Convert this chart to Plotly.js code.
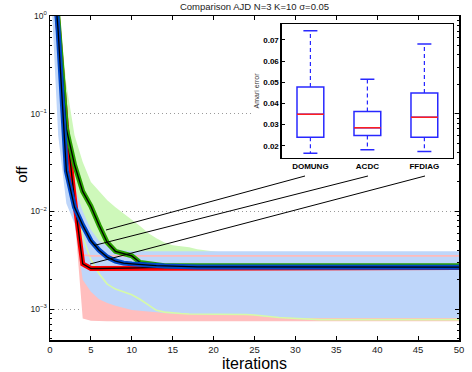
<!DOCTYPE html>
<html>
<head>
<meta charset="utf-8">
<script src="https://cdn.plot.ly/plotly-3.0.1.min.js"></script>
<style>html,body{margin:0;padding:0;background:#fff;}#chart{width:472px;height:372px;}</style>
</head>
<body>
<div id="chart"></div>
<script>
// ---- data ----
const iterations = [0,1,2,3,4,5,6,7,8,9,10,11,12,13,14,15,16,17,18,19,20,21,22,23,24,25,26,27,28,29,30,31,32,33,34,35,36,37,38,39,40,41,42,43,44,45,46,47,48,49,50];

// mean curves
const domung = [8,0.9,0.07,0.03,0.016,0.0113,0.0072,0.0048,0.0039,0.0037,0.0035,0.0030,0.0029,0.00282,
  0.00278,0.00278,0.00278,0.00278,0.00278,0.00278,0.00278,0.00278,0.00278,0.00278,
  0.00278,0.00278,0.00278,0.00278,0.00278,0.00278,0.00278,0.00278,0.00278,0.00278,
  0.00278,0.00278,0.00278,0.00278,0.00278,0.00278,0.00278,0.00278,0.00278,0.00278,
  0.00278,0.00278,0.00278,0.00278,0.00278,0.00278,0.00278];
const acdc = [8,0.7,0.026,0.011,0.0072,0.005,0.004,0.0034,0.0031,0.00295,0.0029,0.00285,0.0028,0.00278,0.00276,0.00274,
  0.0027,0.0027,0.0027,0.0027,0.0027,0.0027,0.0027,0.0027,0.0027,0.0027,
  0.00268,0.00268,0.00268,0.00268,0.00268,0.00268,0.00268,0.00268,0.00268,0.00268,
  0.00268,0.00268,0.00268,0.00268,0.00268,0.00268,0.00268,0.00268,0.00268,0.00268,
  0.00268,0.00268,0.00268,0.00268,0.00268];
const ffdiag = [8,0.9,0.075,0.013,0.0029,0.0026,
  0.0026,0.0026,0.00261,0.00262,0.00263,0.00264,0.00265,0.00266,0.00266,0.00266,
  0.00266,0.00266,0.00266,0.00266,0.00266,0.00266,0.00266,0.00266,0.00266,0.00266,
  0.00266,0.00266,0.00266,0.00266,0.00266,0.00266,0.00266,0.00266,0.00266,0.00266,
  0.00266,0.00266,0.00266,0.00266,0.00266,0.00266,0.00266,0.00266,0.00266,0.00266,
  0.00266,0.00266,0.00266,0.00266,0.00266];

// spread bands
const domungHi = [10,1.5,0.2,0.06,0.032,0.02,0.016,0.013,0.011,0.0095,0.0083,0.0071,0.006,0.0053,0.0048,0.0045,0.0044,0.0043,0.0041,0.004,0.0039,0.0038,
  0.0037,0.0037,0.0037,0.0037,0.0037,0.0037,0.0037,0.0037,0.0037,0.0037,
  0.0037,0.0037,0.0037,0.0037,0.0037,0.0037,0.0037,0.0037,0.0037,0.0037,
  0.0037,0.0037,0.0037,0.0037,0.0037,0.0037,0.0037,0.0037,0.0037];
const domungLo = [5,0.6,0.04,0.012,0.0055,0.0032,0.0023,0.0018,0.0016,0.0015,0.0014,0.00126,0.0011,0.00097,0.00093,0.00091,0.0009,
  0.00089,0.00089,0.00089,0.00089,0.00089,0.00089,0.00089,
  0.00088,0.00087,0.00085,0.00083,0.00082,0.00081,0.0008,0.00079,
  0.00078,0.00078,0.00078,0.00078,0.00078,0.00078,0.00078,0.00078,0.00078,0.00078,
  0.00078,0.00078,0.00078,0.00078,0.00078,0.00078,0.00078,0.00078,0.00078];
const acdcHi = [10,1.2,0.045,0.018,0.01,0.0065,0.005,0.0044,0.0041,0.004,
  0.0039,0.0039,0.0039,0.0039,0.0039,0.0039,0.0039,0.0039,0.0039,0.0039,
  0.0039,0.0039,0.0039,0.0039,0.0039,0.0039,0.0039,0.0039,0.0039,0.0039,
  0.0039,0.0039,0.0039,0.0039,0.0039,0.0039,0.0039,0.0039,0.0039,0.0039,
  0.0039,0.0039,0.0039,0.0039,0.0039,0.0039,0.0039,0.0039,0.0039,0.0039,0.0039];
const acdcLo = [3,0.06,0.012,0.0075,0.002,0.0015,0.00126,0.00115,0.00108,0.00102,0.00098,0.00096,0.00094,0.00092,0.00091,0.0009,
  0.00089,0.00089,0.00089,0.00089,0.00089,
  0.00087,0.00087,0.00087,0.00087,0.00087,
  0.00084,0.00083,0.00082,0.00082,0.00081,
  0.00081,0.00081,0.00081,0.00081,0.00081,0.00081,0.00081,0.00081,0.00081,0.00081,
  0.00081,0.00081,0.00081,0.00081,0.00081,0.00081,0.00081,0.00081,0.00081,0.00081];
const ffdiagHi = [10,1.5,0.1,0.02,0.0036,
  0.0035,0.0035,0.0035,0.0035,0.0035,0.0035,0.0035,0.0035,0.0035,0.0035,
  0.0035,0.0035,0.0035,0.0035,0.0035,0.0035,0.0035,0.0035,0.0035,0.0035,
  0.0035,0.0035,0.0035,0.0035,0.0035,0.0035,0.0035,0.0035,0.0035,0.0035,
  0.0035,0.0035,0.0035,0.0035,0.0035,0.0035,0.0035,0.0035,0.0035,0.0035,
  0.0035,0.0035,0.0035,0.0035,0.0035,0.0035];
const ffdiagLo = [5,0.5,0.05,0.009,0.0008,0.00076,
  0.00075,0.00075,0.00075,0.00075,0.00075,0.00075,0.00075,0.00075,0.00075,0.00075,
  0.00075,0.00075,0.00075,0.00075,0.00075,0.00075,0.00075,0.00075,0.00075,0.00075,
  0.00075,0.00075,0.00075,0.00075,0.00075,0.00075,0.00075,0.00075,0.00075,0.00075,
  0.00075,0.00075,0.00075,0.00075,0.00075,0.00075,0.00075,0.00075,0.00075,0.00075,
  0.00075,0.00075,0.00075,0.00075,0.00075];

// inset box plot (Amari error)
const boxCats = ['DOMUNG','ACDC','FFDIAG'];
const boxLower = [0.0165,0.0181,0.0173];
const boxQ1 = [0.0241,0.0249,0.0241];
const boxMedian = [0.0349,0.0285,0.0335];
const boxQ3 = [0.0478,0.0362,0.0450];
const boxUpper = [0.0744,0.0514,0.0681];

// tick labels
const yTickVals = [1,0.1,0.01,0.001];
const yTickText = ['10<sup>0</sup>','10<sup>\u22121</sup>','10<sup>\u22122</sup>','10<sup>\u22123</sup>'];
const yMinorVals = [0.0005,0.0006,0.0007,0.0008,0.0009,0.002,0.003,0.004,0.005,0.006,0.007,0.008,0.009,
  0.02,0.03,0.04,0.05,0.06,0.07,0.08,0.09,0.2,0.3,0.4,0.5,0.6,0.7,0.8,0.9];

// ---- styles ----
const C = {
  greenFill:'rgb(206,248,186)', pinkFill:'rgb(255,190,190)', blueFill:'rgb(190,214,250)',
  greenEdge:'rgb(214,250,168)', pinkEdge:'rgb(255,186,186)',
  red:'rgb(255,0,0)', green:'rgb(40,160,0)', blue:'rgb(0,72,200)', box:'rgb(40,40,255)'
};

const traces = [];
function band(lo, hi, color) {
  traces.push({x:iterations, y:lo, mode:'lines', line:{width:0, color:color}, hoverinfo:'skip'});
  traces.push({x:iterations, y:hi, mode:'lines', line:{width:0, color:color}, fill:'tonexty', fillcolor:color, hoverinfo:'skip'});
}
band(domungLo, domungHi, C.greenFill);
band(ffdiagLo, ffdiagHi, C.pinkFill);
band(acdcLo, acdcHi, C.blueFill);
traces.push({x:iterations, y:domungLo, mode:'lines', line:{width:1.6, color:C.greenEdge}});
traces.push({x:iterations, y:ffdiagHi, mode:'lines', line:{width:1.6, color:C.pinkEdge}});
function curve(y, color, name) {
  traces.push({x:iterations, y:y, mode:'lines', name:name, line:{width:5, color:color}});
  traces.push({x:iterations, y:y, mode:'lines', name:name, line:{width:1.3, color:'black'}});
}
curve(ffdiag, C.red, 'FFDIAG');
curve(domung, C.green, 'DOMUNG');
curve(acdc, C.blue, 'ACDC');

// inset
traces.push({type:'box', xaxis:'x2', yaxis:'y2', x:boxCats, q1:boxQ1, median:boxMedian, q3:boxQ3,
  lowerfence:boxQ1, upperfence:boxQ3, width:0.47, boxpoints:false,
  line:{color:C.box, width:1.5}, fillcolor:'rgba(0,0,0,0)', hoverinfo:'skip'});
traces.push({type:'box', xaxis:'x2', yaxis:'y2', x:boxCats, q1:boxMedian, median:boxMedian, q3:boxMedian,
  lowerfence:boxMedian, upperfence:boxMedian, width:0.47, boxpoints:false,
  line:{color:'rgb(255,30,30)', width:1.5}, fillcolor:'rgba(0,0,0,0)', hoverinfo:'skip'});
const wx = [], wy = [];
boxCats.forEach((c,i) => { wx.push(c,c,null,c,c,null); wy.push(boxQ3[i],boxUpper[i],null,boxQ1[i],boxLower[i],null); });
traces.push({xaxis:'x2', yaxis:'y2', x:wx, y:wy, mode:'lines', line:{color:C.box, width:1.2, dash:'4px,3px'}, hoverinfo:'skip'});
traces.push({xaxis:'x2', yaxis:'y2', x:boxCats.concat(boxCats), y:boxUpper.concat(boxLower), mode:'markers',
  marker:{symbol:'line-ew', size:10, color:C.box, line:{color:C.box, width:1.5}}, hoverinfo:'skip'});

const FONT = 'Liberation Sans, Arial, Helvetica, sans-serif';
function leader(x0,y0,x1,y1){ return {type:'line', xref:'paper', yref:'paper', x0:x0, y0:y0, x1:x1, y1:y1, line:{color:'black', width:1}, layer:'above'}; }

const layout = {
  width:472, height:372,
  margin:{l:50, r:13, t:16, b:32},
  paper_bgcolor:'white', plot_bgcolor:'white',
  showlegend:false,
  font:{family:FONT, color:'black'},
  title:{text:'Comparison AJD N=3 K=10 \u03c3=0.05', font:{size:9.5, color:'#222'}, x:0.5, xref:'paper', xanchor:'center', y:1-7/372, yref:'container', yanchor:'middle'},
  xaxis:{range:[0,50], tick0:0, dtick:5, ticks:'inside', ticklen:4, tickwidth:1, tickcolor:'black',
    showline:true, linecolor:'black', linewidth:1.5, mirror:'allticks', showgrid:false, zeroline:false,
    tickfont:{size:9.5, color:'#222'}, title:{text:'iterations', font:{size:16}, standoff:2}},
  yaxis:{type:'log', range:[-3.317,0], tickmode:'array', tickvals:yTickVals, ticktext:yTickText,
    ticks:'inside', ticklen:4, tickwidth:1, tickcolor:'black',
    showline:true, linecolor:'black', linewidth:1.5, mirror:'allticks',
    showgrid:true, gridcolor:'#9a9a9a', griddash:'1px,3px', gridwidth:1, zeroline:false,
    minor:{tickmode:'array', tickvals:yMinorVals, ticks:'inside', ticklen:2, tickwidth:1, tickcolor:'black', showgrid:false},
    tickfont:{size:8.5, color:'#222'}},
  xaxis2:{domain:[0.567,0.985], anchor:'y2', type:'category', range:[-0.5,2.5],
    showline:true, linecolor:'black', linewidth:1.5, mirror:true, ticks:'', showgrid:false, zeroline:false,
    tickfont:{size:8, weight:'bold'}},
  yaxis2:{domain:[0.562,0.975], anchor:'x2', range:[0.0143,0.0775], tick0:0, dtick:0.01, tickformat:'.2f',
    ticks:'inside', ticklen:3, tickcolor:'black', showline:true, linecolor:'black', linewidth:1.5, mirror:true,
    showgrid:false, zeroline:false, tickfont:{size:8, weight:'bold'},
    title:{text:'Amari error', font:{size:7, color:'#333'}, standoff:3}},
  annotations:[
    {text:'off', xref:'paper', yref:'paper', x:0, y:0.51, xshift:-28, xanchor:'center', yanchor:'middle',
     textangle:-90, showarrow:false, font:{size:15, color:'black'}}
  ],
  shapes:[
    // white margin behind the inset's labels (hides main grid there)
    {type:'rect', xref:'x', yref:'y', x0:24.8, x1:28.4, y0:0.07, y1:0.14, fillcolor:'white', line:{width:0}, layer:'between'},
    leader(0.1369,0.3395,0.6235,0.5062),
    leader(0.1076,0.2917,0.7775,0.5062),
    leader(0.0978,0.2346,0.9169,0.5062)
  ]
};

Plotly.newPlot('chart', traces, layout, {staticPlot:true, displayModeBar:false});
</script>
</body>
</html>
